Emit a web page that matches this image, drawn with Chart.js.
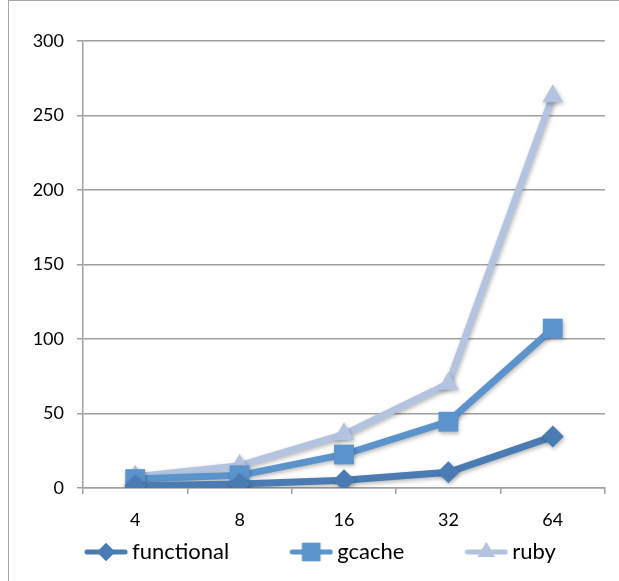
<!DOCTYPE html>
<html>
<head>
<meta charset="utf-8">
<script src="https://cdn.jsdelivr.net/npm/chart.js@4/dist/chart.umd.min.js"></script>
<style>
  html, body { margin: 0; padding: 0; background: #fff; }
  #wrap { position: relative; width: 619px; height: 581px; overflow: hidden; }
  #frame { position: absolute; left: 8px; top: 0px; width: 640px; height: 640px; border: 1.5px solid #a6a6a6; box-sizing: border-box; }
  canvas { position: absolute; left: 0; top: 0; }
</style>
</head>
<body>
<div id="wrap">
  <div id="frame"></div>
  <canvas id="c" width="619" height="581"></canvas>
</div>
<script>
const categories = ["4", "8", "16", "32", "64"];
const functionalValues = [1.5, 2.7, 5.2, 10.5, 34.5];
const gcacheValues = [6, 8.5, 22.5, 44.5, 107];
const rubyValues = [7.5, 15, 36, 70, 263];
const yTicks = [0, 50, 100, 150, 200, 250, 300];

const seriesNames = ["functional", "gcache", "ruby"];
const seriesColors = ["#4a7cb3", "#5b93cd", "#b2c4df"];
const seriesMarkers = ["rectRot", "rect", "triangle"];
const seriesRadius = [11, 14, 12];
const legendRadius = [9, 13, 10];

const LEG_P = 89;           // legend box width
const LEG_W = LEG_P + 14;   // icon canvas width
function legendIcon(color, style, radius) {
  const cv = document.createElement('canvas');
  cv.width = LEG_W; cv.height = 26;
  const ctx = cv.getContext('2d');
  ctx.strokeStyle = color; ctx.lineWidth = 5; ctx.lineCap = 'round';
  ctx.beginPath(); ctx.moveTo(LEG_W - 41, 13); ctx.lineTo(LEG_W - 3, 13); ctx.stroke();
  ctx.fillStyle = color;
  Chart.helpers.drawPoint(ctx, { pointStyle: style, radius: radius, rotation: 0 }, LEG_W - 22, 13);
  ctx.fill();
  return cv;
}

const allValues = [functionalValues, gcacheValues, rubyValues];
const datasets = seriesNames.map((n, i) => ({
  label: n,
  data: allValues[i],
  borderColor: seriesColors[i],
  backgroundColor: seriesColors[i],
  borderWidth: 7,
  pointStyle: seriesMarkers[i],
  pointRadius: seriesRadius[i],
  pointHoverRadius: seriesRadius[i],
  pointBorderWidth: 0,
  tension: 0
}));
const shadowPlugin = {
  id: 'shadow',
  afterLayout(chart) {
    if (chart.legend) { chart.legend.left -= 9; chart.legend.right -= 9; }
  },
  beforeDatasetsDraw(chart) {
    const ctx = chart.ctx; ctx.save();
    ctx.shadowColor = 'rgba(0,0,0,0.28)'; ctx.shadowBlur = 4; ctx.shadowOffsetX = 1; ctx.shadowOffsetY = 2;
  },
  afterDatasetsDraw(chart) { chart.ctx.restore(); }
};

new Chart(document.getElementById('c'), {
  type: 'line',
  data: { labels: categories, datasets },
  plugins: [shadowPlugin],
  options: {
    responsive: false,
    animation: false,
    events: [],
    layout: { padding: { left: 0, right: 13, top: 41, bottom: 8 } },
    plugins: {
      tooltip: { enabled: false },
      legend: {
        position: 'bottom',
        labels: {
          color: '#000',
          font: { family: 'Lato, "Open Sans", sans-serif', size: 22 },
          usePointStyle: true,
          pointStyleWidth: LEG_P,
          padding: 8,
          generateLabels(chart) {
            return chart.data.datasets.map((d, i) => ({
              text: d.label,
              pointStyle: legendIcon(seriesColors[i], seriesMarkers[i], legendRadius[i]),
              fillStyle: seriesColors[i], strokeStyle: seriesColors[i], lineWidth: 0,
              datasetIndex: i, hidden: false
            }));
          }
        }
      }
    },
    scales: {
      x: {
        offset: true,
        grid: { offset: true, drawOnChartArea: false, drawTicks: true, tickLength: 6, color: '#a0a0a0', lineWidth: 1.5 },
        border: { display: true, color: '#a0a0a0', width: 1.5 },
        ticks: { color: '#000', font: { family: 'Lato, "Open Sans", sans-serif', size: 18 }, padding: 15, maxRotation: 0 },
        afterFit(s) { s.height = 45; }
      },
      y: {
        min: 0, max: 300,
        afterBuildTicks(s) { s.ticks = yTicks.map(v => ({ value: v })); },
        grid: { color: '#a0a0a0', lineWidth: 1.5, tickLength: 6 },
        border: { display: true, color: '#a0a0a0', width: 1.5 },
        ticks: { color: '#000', font: { family: 'Lato, "Open Sans", sans-serif', size: 18 }, padding: 13 },
        afterFit(s) { s.width = 83; }
      }
    }
  }
});
</script>
</body>
</html>
